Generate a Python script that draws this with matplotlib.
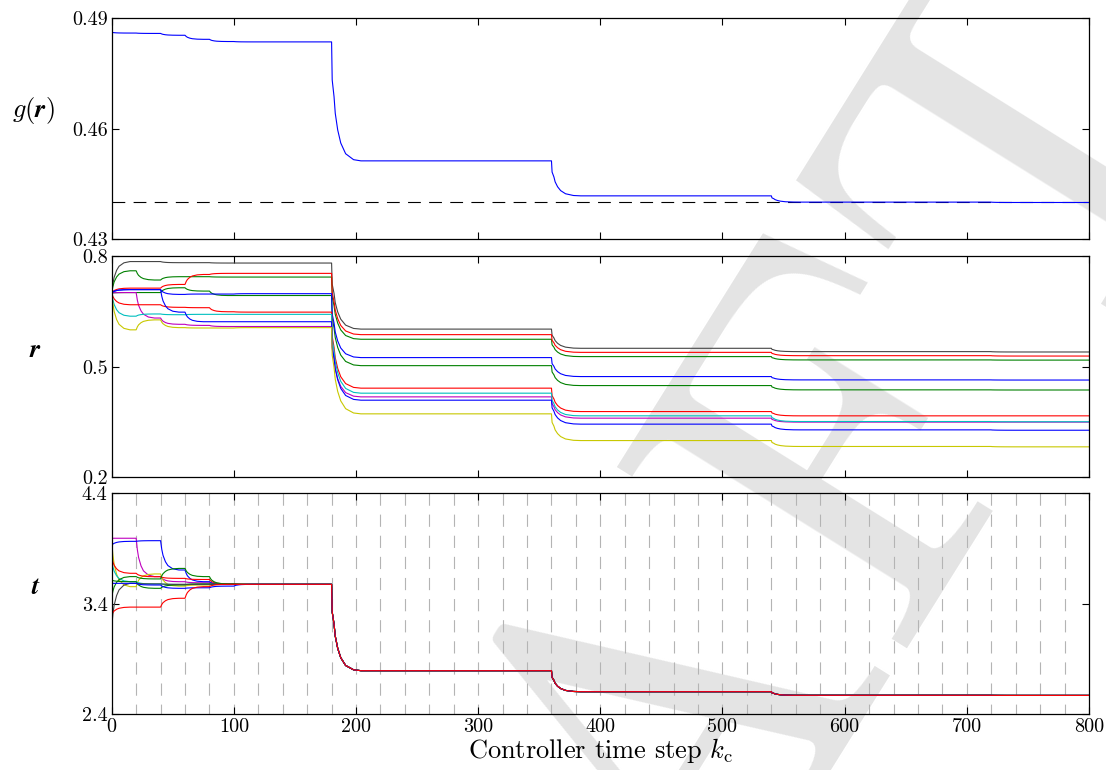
import matplotlib
matplotlib.use("Agg")
import matplotlib.pyplot as plt

plt.rcParams['font.family'] = 'serif'
plt.rcParams['font.serif'] = ['cmr10']
plt.rcParams['mathtext.fontset'] = 'cm'
plt.rcParams['axes.formatter.use_mathtext'] = True

# controller steps at which a new reference is handed over
CHANGE_K = [0, 20, 40, 60, 80, 100, 180, 360, 540, 720]
K_END = 800

MAIN_DK = [0, 0.5, 2, 3, 5, 7.5, 11.5, 18, 24]
MAIN_FRAC = [0, 0.32, 0.46, 0.6, 0.74, 0.85, 0.94, 0.99, 1.0]
SUB_DK = [0, 1, 2, 4, 6, 10, 15]
SUB_FRAC = [0, 0.3, 0.5, 0.72, 0.85, 0.96, 1.0]

# top panel: cost g(r) and its optimum
G_START = 0.4862
G_LEVELS = [0.4860, 0.4859, 0.4854, 0.4843, 0.4837, 0.4836, 0.4513, 0.4418, 0.4401, 0.4400]
G_OPT = 0.44

# middle panel: r, every line starts at 0.70
R_START = 0.70
r_black = [0.785, 0.785, 0.782, 0.782, 0.781, 0.781, 0.602, 0.550, 0.541, 0.540]
r_green1 = [0.760, 0.735, 0.744, 0.744, 0.743, 0.743, 0.5745, 0.5275, 0.5185, 0.518]
r_red1 = [0.713, 0.713, 0.723, 0.750, 0.753, 0.753, 0.587, 0.539, 0.530, 0.529]
r_green2 = [0.701, 0.701, 0.714, 0.705, 0.693, 0.693, 0.503, 0.449, 0.4374, 0.437]
r_blue1 = [0.709, 0.709, 0.696, 0.697, 0.697, 0.698, 0.5248, 0.4734, 0.4644, 0.464]
r_magenta = [0.701, 0.632, 0.615, 0.612, 0.609, 0.609, 0.4184, 0.3607, 0.350, 0.350]
r_red2 = [0.668, 0.668, 0.661, 0.660, 0.649, 0.648, 0.442, 0.3786, 0.367, 0.367]
r_cyan = [0.637, 0.643, 0.641, 0.642, 0.642, 0.642, 0.4284, 0.367, 0.3516, 0.351]
r_blue2 = [0.709, 0.709, 0.648, 0.622, 0.622, 0.622, 0.4094, 0.3445, 0.329, 0.328]
r_yellow = [0.600, 0.627, 0.606, 0.605, 0.605, 0.606, 0.3724, 0.300, 0.284, 0.283]

# bottom panel: t
t_magenta = [3.993, 3.646, 3.600, 3.590, 3.580, 3.576, 2.795, 2.605, 2.572, 2.571]
t_blue1 = [3.965, 3.971, 3.706, 3.600, 3.578, 3.576, 2.795, 2.605, 2.572, 2.571]
t_yellow = [3.555, 3.670, 3.560, 3.570, 3.575, 3.576, 2.795, 2.605, 2.572, 2.571]
t_red1 = [3.676, 3.645, 3.630, 3.620, 3.580, 3.576, 2.795, 2.605, 2.572, 2.571]
t_cyan = [3.600, 3.580, 3.575, 3.576, 3.576, 3.576, 2.795, 2.605, 2.572, 2.571]
t_green1 = [3.646, 3.625, 3.720, 3.646, 3.580, 3.576, 2.795, 2.605, 2.572, 2.571]
t_green2 = [3.600, 3.540, 3.570, 3.580, 3.576, 3.576, 2.795, 2.605, 2.572, 2.571]
t_black = [3.585, 3.580, 3.576, 3.576, 3.576, 3.576, 2.795, 2.605, 2.572, 2.571]
t_blue2 = [3.585, 3.570, 3.540, 3.545, 3.560, 3.576, 2.795, 2.605, 2.572, 2.571]
t_red2 = [3.370, 3.370, 3.450, 3.555, 3.576, 3.576, 2.795, 2.605, 2.572, 2.571]
T_START = [3.993, 3.93, 3.96, 3.82, 3.79, 3.46, 3.615, 3.19, 3.585, 3.30]

R_LINES = [r_black, r_green1, r_red1, r_green2, r_blue1, r_magenta, r_red2, r_cyan, r_blue2, r_yellow]
R_COLORS = ['#444444', 'g', 'r', 'g', 'b', 'm', 'r', 'c', 'b', '#c8c800']
T_LINES = [t_magenta, t_blue1, t_yellow, t_red1, t_cyan, t_green1, t_green2, t_black, t_blue2, t_red2]
T_COLORS = ['m', 'b', '#c8c800', 'r', 'c', 'g', 'g', '#444444', 'b', 'r']


def trajectory(start, levels):
    ks, vs = [0], [start]
    cur = start
    for i in range(len(CHANGE_K)):
        k0 = CHANGE_K[i]
        target = levels[i]
        if k0 >= 180:
            dks, fracs = MAIN_DK, MAIN_FRAC
        else:
            dks, fracs = SUB_DK, SUB_FRAC
        for dk, f in zip(dks, fracs):
            ks.append(k0 + dk)
            vs.append(cur + (target - cur) * f)
        cur = target
        if i + 1 < len(CHANGE_K):
            ks.append(CHANGE_K[i + 1])
        else:
            ks.append(K_END)
        vs.append(cur)
    return ks, vs


fig = plt.figure(figsize=(11.06, 7.7), dpi=100)
ax1 = fig.add_axes([0.101, 0.6892, 0.8836, 0.287])
ax2 = fig.add_axes([0.101, 0.3799, 0.8836, 0.2876])
ax3 = fig.add_axes([0.101, 0.0723, 0.8836, 0.2871])

# draft watermark behind everything
fig.text(0.606, 0.005, 'DRAFT', rotation=58, rotation_mode='anchor',
         ha='center', va='center', fontsize=360, color='#e4e4e4', zorder=-10)

lw = 0.8

ks, vs = trajectory(G_START, G_LEVELS)
ax1.axhline(G_OPT, color='k', lw=0.8, dashes=(11.5, 7.5))
ax1.plot(ks, vs, color='b', lw=lw)

for line, col in zip(R_LINES, R_COLORS):
    ks, vs = trajectory(R_START, line)
    ax2.plot(ks, vs, color=col, lw=lw)

for k in range(20, K_END, 20):
    ax3.axvline(k, ymin=1, ymax=0, color='#b4b4b4', lw=0.8, dashes=(11, 8), zorder=1)
for start, line, col in zip(T_START, T_LINES, T_COLORS):
    ks, vs = trajectory(start, line)
    ax3.plot(ks, vs, color=col, lw=lw, zorder=2)

ax1.set_ylim(0.43, 0.49)
ax1.set_yticks([0.43, 0.46, 0.49])
ax1.set_yticklabels(['0.43', '0.46', '0.49'])
ax2.set_ylim(0.2, 0.8)
ax2.set_yticks([0.2, 0.5, 0.8])
ax2.set_yticklabels(['0.2', '0.5', '0.8'])
ax3.set_ylim(2.4, 4.4)
ax3.set_yticks([2.4, 3.4, 4.4])
ax3.set_yticklabels(['2.4', '3.4', '4.4'])

for ax in (ax1, ax2, ax3):
    ax.set_facecolor('none')
    ax.set_xlim(0, K_END)
    ax.set_xticks(range(0, K_END + 1, 100))
    ax.tick_params(direction='in', top=True, right=True, length=5, width=0.8,
                   labelsize=14.5, pad=3)
    for s in ax.spines.values():
        s.set_linewidth(0.9)
ax1.tick_params(labelbottom=False)
ax2.tick_params(labelbottom=False)
ax3.set_xticklabels([str(k) for k in range(0, K_END + 1, 100)])

ax3.set_xlabel(r'Controller time step $k_{\mathrm{c}}$', fontsize=19, labelpad=0)

fig.text(0.030, 0.857, r'$g(\mathbfit{r})$', fontsize=19, ha='center', va='center')
fig.text(0.032, 0.545, r'$\mathbfit{r}$', fontsize=19, ha='center', va='center')
fig.text(0.032, 0.238, r'$\mathbfit{t}$', fontsize=19, ha='center', va='center')

fig.savefig('out.png', dpi=100)
